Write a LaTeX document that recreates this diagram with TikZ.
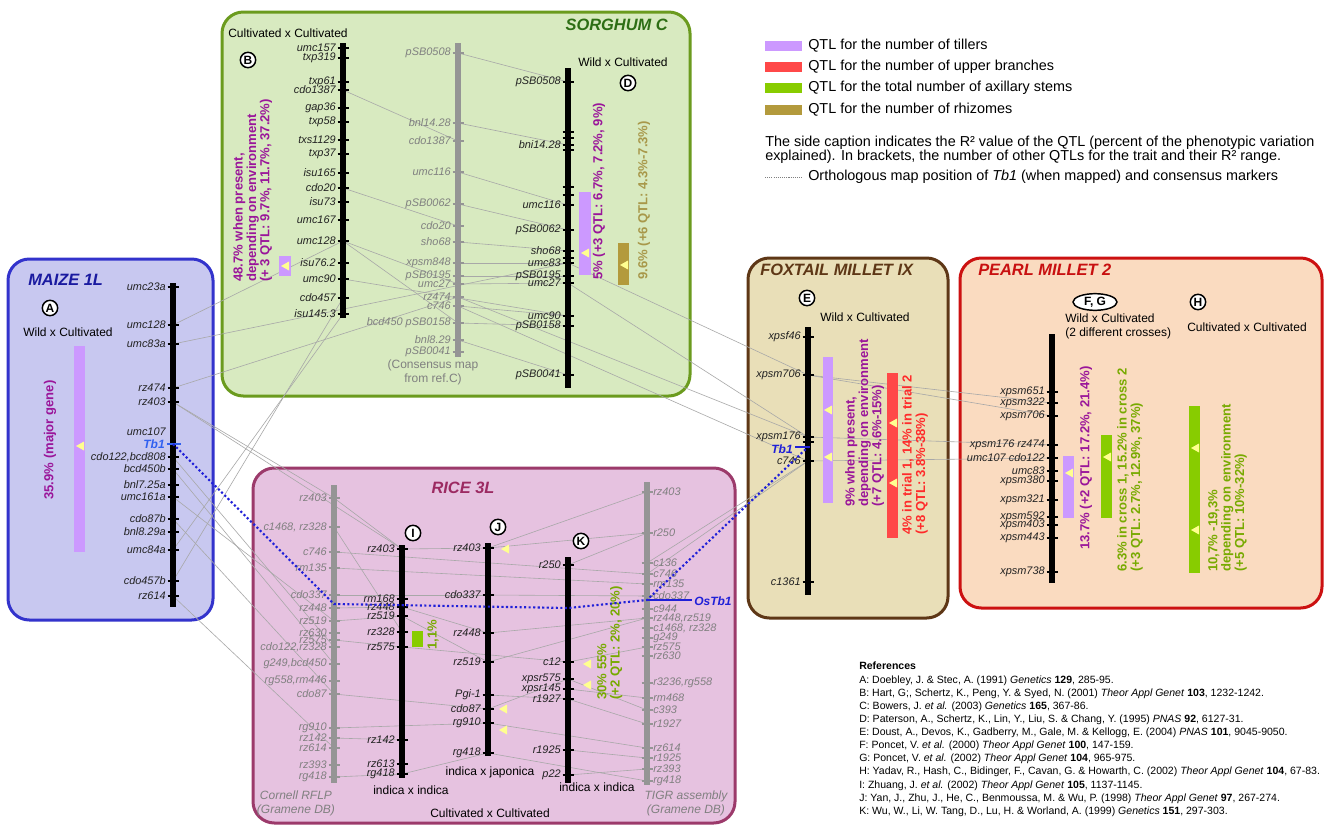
\documentclass[tikz,border=0pt]{standalone}
\usepackage{fontspec}
\setmainfont{Liberation Sans}
\usetikzlibrary{shapes.geometric}
\definecolor{mzfill}{HTML}{C8C8F0}\definecolor{mzline}{HTML}{3333CC}\definecolor{mztitle}{HTML}{1A1AA0}
\definecolor{sgfill}{HTML}{D8EAC0}\definecolor{sgline}{HTML}{6B9B1E}\definecolor{sgtitle}{HTML}{2D6E14}
\definecolor{rcfill}{HTML}{E6C2E0}\definecolor{rcline}{HTML}{9C3A6B}\definecolor{rctitle}{HTML}{9C2A62}
\definecolor{fxfill}{HTML}{E9DFB8}\definecolor{fxline}{HTML}{5E3716}\definecolor{fxtitle}{HTML}{5E3716}
\definecolor{pmfill}{HTML}{FADBC0}\definecolor{pmline}{HTML}{CC1111}\definecolor{pmtitle}{HTML}{C81010}
\definecolor{qtil}{HTML}{CC99FF}\definecolor{qbra}{HTML}{FF4848}\definecolor{qaxi}{HTML}{88CC00}\definecolor{qrhi}{HTML}{B39A3C}
\definecolor{ttil}{HTML}{9A159A}\definecolor{tbra}{HTML}{FF2A2A}\definecolor{taxi}{HTML}{77AA00}\definecolor{trhi}{HTML}{A8984A}
\definecolor{tbblue}{HTML}{2020D8}\definecolor{tblight}{HTML}{3060F0}
\definecolor{qyel}{HTML}{FFFF90}
\definecolor{mkgray}{HTML}{808080}\definecolor{chromgray}{HTML}{959595}
\definecolor{mktext}{HTML}{222222}\definecolor{conncol}{HTML}{A8A8A8}
\newcommand\mkfont{\fontsize{8.2}{9}\selectfont\itshape}
\newcommand\ttlfont{\fontsize{12.3}{14}\selectfont\bfseries\itshape}
\newcommand\circfont{\fontsize{9}{10}\selectfont\bfseries}
\newcommand\crossfont{\fontsize{9}{10.5}\selectfont}
\newcommand\qfont{\fontsize{9.8}{10}\selectfont\bfseries}
\newcommand\legfont{\fontsize{10.8}{12}\selectfont}
\newcommand\reffont{\fontsize{7.9}{9.85}\selectfont}
\pgfdeclarelayer{boxes}
\pgfdeclarelayer{conns}
\pgfsetlayers{boxes,conns,main}
\tikzset{
 panel/.style={line width=2.25pt, rounded corners=16pt},
 chrom/.style={line width=3.8pt, black},
 gchrom/.style={line width=3.8pt, chromgray},
 mtick/.style={line width=1.1pt, black},
 gtick/.style={line width=1.1pt, chromgray},
 mlab/.style={font=\mkfont, text=mktext, inner sep=0pt},
 glab/.style={font=\mkfont, text=mkgray, inner sep=0pt},
 tblab/.style={font=\fontsize{9}{10}\selectfont\bfseries\itshape, inner sep=0pt},
 ttl/.style={font=\ttlfont, inner sep=0pt},
 circ/.style={circle, draw=black, line width=1.1pt, fill=white, inner sep=0pt, minimum size=11.5pt, font=\circfont},
 crosslab/.style={font=\crossfont, inner sep=0pt, align=center},
 qlab/.style={rotate=90, font=\qfont, inner sep=0pt, align=left},
 connline/.style={line width=0.45pt, conncol},
 tbl/.style={line width=1.6pt, tbblue, dash pattern=on 1.6pt off 1.8pt},
 legtxt/.style={font=\legfont, anchor=west, inner sep=0pt},
}
\newcommand\mkl[4]{\coordinate (#1) at (#2,#3);\draw[mtick] (#2-5.5,#3) -- (#2+5.5,#3);\node[mlab,anchor=east] (#1-t) at (#2-7,#3) {#4};}
\newcommand\mkg[4]{\coordinate (#1) at (#2,#3);\draw[gtick] (#2-5.5,#3) -- (#2+5.5,#3);\node[glab,anchor=east] (#1-t) at (#2-7,#3) {#4};}
\newcommand\mkgr[4]{\coordinate (#1) at (#2,#3);\draw[gtick] (#2-5.5,#3) -- (#2+5.5,#3);\node[glab,anchor=west] (#1-t) at (#2+6,#3) {#4};}
\newcommand\qtr[2]{\fill[qyel] (#1-4,#2) -- (#1+4,#2-4.5) -- (#1+4,#2+4.5) -- cycle;}
\begin{document}
\begin{tikzpicture}[x=0.75pt,y=-0.75pt]
\useasboundingbox (0,0) rectangle (1329,828);
\begin{pgfonlayer}{boxes}
 \fill[white] (0,0) rectangle (1329,828);
 \draw[panel,draw=mzline,fill=mzfill] (8,259) rectangle (213,620);
 \draw[panel,draw=sgline,fill=sgfill] (222,12) rectangle (690,396);
 \draw[panel,draw=rcline,fill=rcfill] (253,468) rectangle (735,823);
 \draw[panel,draw=fxline,fill=fxfill] (748,258) rectangle (948,618);
 \draw[panel,draw=pmline,fill=pmfill] (960,258) rectangle (1322,608);
\end{pgfonlayer}
% titles
\node[ttl,text=mztitle,anchor=west] (tMaize) at (28,280) {MAIZE 1L};
\node[ttl,text=sgtitle,anchor=east] (tSorg) at (668,25) {SORGHUM C};
\node[ttl,text=rctitle] (tRice) at (463,488) {RICE 3L};
\node[ttl,text=fxtitle,anchor=west] (tFox) at (760,270) {FOXTAIL MILLET IX};
\node[ttl,text=pmtitle,anchor=west] (tPearl) at (978,270) {PEARL MILLET 2};
% ---------------- MAIZE
\node[circ] (cA) at (50,308) {A};
\node[crosslab] (xA) at (68,332) {Wild x Cultivated};
\fill[qtil] (74,346) rectangle (85,552); \qtr{80}{446}
\node[qlab,text=ttil] (qA) at (50,440) {35.9\% (major gene)};
\draw[chrom] (173,283) -- (173,607);
\mkl{mz-umc23a}{173}{287}{umc23a}
\mkl{mz-umc128}{173}{325}{umc128}
\mkl{mz-umc83a}{173}{344}{umc83a}
\mkl{mz-rz474}{173}{388}{rz474}
\mkl{mz-rz403}{173}{402}{rz403}
\node[mlab,anchor=east] (mz-umc107-t) at (166,432) {umc107};
\mkl{mz-cdo122}{173}{457}{cdo122,bcd808}
\mkl{mz-bcd450b}{173}{469}{bcd450b}
\mkl{mz-bnl725a}{173}{485}{bnl7.25a}
\mkl{mz-umc161a}{173}{497}{umc161a}
\mkl{mz-cdo87b}{173}{519}{cdo87b}
\mkl{mz-bnl829a}{173}{532}{bnl8.29a}
\mkl{mz-umc84a}{173}{550}{umc84a}
\mkl{mz-cdo457b}{173}{581}{cdo457b}
\mkl{mz-rz614}{173}{596}{rz614}
\coordinate (mz-Tb1) at (173,444);
\draw[line width=2.2pt,tblight] (167,444) -- (181,444);
\node[tblab,text=tblight,anchor=east] (mz-Tb1-t) at (165,444) {Tb1};
% ---------------- SORGHUM B
\node[crosslab,anchor=west] (xB) at (228,33) {Cultivated x Cultivated};
\node[circ] (cB) at (248,60) {B};
\fill[qtil] (279,256) rectangle (291,276); \qtr{285}{266}
\node[qlab,text=ttil,anchor=north west] (qB) at (233,282) {48.7\% when present,\\depending on environment\\(+ 3 QTL: 9.7\%, 11.7\%, 37.2\%)};
\draw[chrom] (343,43) -- (343,318);
\mkl{B-umc157}{343}{48}{umc157}
\mkl{B-txp319}{343}{58}{txp319}
\mkl{B-txp61}{343}{82}{txp61}
\mkl{B-cdo1387}{343}{90}{cdo1387}
\mkl{B-gap36}{343}{108}{gap36}
\mkl{B-txp58}{343}{122}{txp58}
\mkl{B-txs1129}{343}{140}{txs1129}
\mkl{B-txp37}{343}{154}{txp37}
\mkl{B-isu165}{343}{173}{isu165}
\mkl{B-cdo20}{343}{188}{cdo20}
\mkl{B-isu73}{343}{202}{isu73}
\mkl{B-umc167}{343}{220}{umc167}
\mkl{B-umc128}{343}{241}{umc128}
\mkl{B-isu762}{343}{263}{isu76.2}
\mkl{B-umc90}{343}{279}{umc90}
\mkl{B-cdo457}{343}{298}{cdo457}
\mkl{B-isu1453}{343}{314}{isu145.3}
% ---------------- SORGHUM consensus
\draw[gchrom] (458,43) -- (458,357);
\mkg{C-pSB0508}{458}{53}{pSB0508}
\mkg{C-bnl1428}{458}{123}{bnl14.28}
\mkg{C-cdo1387}{458}{141}{cdo1387}
\mkg{C-umc116}{458}{172}{umc116}
\mkg{C-pSB0062}{458}{204}{pSB0062}
\mkg{C-cdo20}{458}{226}{cdo20}
\mkg{C-sho68}{458}{242}{sho68}
\mkg{C-xpsm848}{458}{263}{xpsm848}
\mkg{C-pSB0195}{458}{276}{pSB0195}
\mkg{C-umc27}{458}{284}{umc27}
\mkg{C-rz474}{458}{297}{rz474}
\mkg{C-c746}{458}{306}{c746}
\mkg{C-pSB0158}{458}{323}{bcd450 pSB0158}
\mkg{C-bnl829}{458}{340}{bnl8.29}
\mkg{C-pSB0041}{458}{352}{pSB0041}
\node[crosslab,text=mkgray] (consnote) at (433,372) {(Consensus map\\from ref.C)};
% ---------------- SORGHUM D
\node[crosslab] (xD) at (623,62) {Wild x Cultivated};
\node[circ] (cD) at (628,83) {D};
\fill[qtil] (579,192) rectangle (591,275); \qtr{585}{253}
\fill[qrhi] (618,243) rectangle (629,285); \qtr{624}{265}
\node[qlab,text=ttil,anchor=west] (qD1) at (599,280) {5\% (+3 QTL: 6.7\%, 7.2\%, 9\%)};
\node[qlab,text=trhi,anchor=west] (qD2) at (644,280) {9.6\% (+6 QTL: 4.3\%-7.3\%)};
\draw[chrom] (568,68) -- (568,388);
\mkl{D-pSB0508}{568}{82}{pSB0508}
\foreach \yy in {132,138,150,187,195,258} \draw[mtick] (562.5,\yy) -- (573.5,\yy);
\mkl{D-bnl1428}{568}{145}{bni14.28}
\mkl{D-umc116}{568}{205}{umc116}
\mkl{D-pSB0062}{568}{230}{pSB0062}
\mkl{D-sho68}{568}{251}{sho68}
\mkl{D-umc83}{568}{263}{umc83}
\mkl{D-pSB0195}{568}{276}{pSB0195}
\mkl{D-umc27}{568}{283}{umc27}
\mkl{D-umc90}{568}{316}{umc90}
\mkl{D-pSB0158}{568}{326}{pSB0158}
\mkl{D-pSB0041}{568}{375}{pSB0041}
% ---------------- FOXTAIL
\node[circ] (cE) at (807,298) {E};
\node[crosslab] (xE) at (865,317) {Wild x Cultivated};
\fill[qtil] (823,357) rectangle (833,503); \qtr{828}{410}\qtr{828}{457}
\fill[qbra] (887,373) rectangle (898,538); \qtr{893}{423}\qtr{893}{483}
\node[qlab,text=ttil,anchor=north west] (qE1) at (845,507) {9\% when present,\\depending on environment\\(+7 QTL: 4.6\%-15\%)};
\node[qlab,text=tbra,anchor=north west] (qE2) at (902,535) {4\% in trial 1, 14\% in trial 2\\(+8 QTL: 3.8\%-38\%)};
\draw[chrom] (808,327) -- (808,595);
\mkl{F-xpsf46}{808}{337}{xpsf46}
\mkl{F-xpsm706}{808}{375}{xpsm706}
\mkl{F-xpsm176}{808}{437}{xpsm176}
\draw[mtick] (802.5,442) -- (813.5,442);
\mkl{F-c746}{808}{461}{c746}
\mkl{F-c1361}{808}{582}{c1361}
\coordinate (F-Tb1) at (808,447);
\draw[line width=2.2pt,tbblue] (795,447) -- (810,447);
\node[tblab,text=tbblue,anchor=east] (F-Tb1-t) at (793,449) {Tb1};
% ---------------- PEARL MILLET
\node[ellipse, draw=black, line width=1.1pt, fill=white, inner sep=0pt, minimum width=33pt, minimum height=12.5pt, font=\circfont] (cFG) at (1095,302) {F, G};
\node[circ] (cH) at (1198,302) {H};
\node[crosslab,anchor=north west,align=left] (xFG) at (1065,314) {Wild x Cultivated\\(2 different crosses)};
\node[crosslab] (xH) at (1247,327) {Cultivated x Cultivated};
\fill[qtil] (1063,456) rectangle (1074,518); \qtr{1069}{473}
\fill[qaxi] (1101,435) rectangle (1112,518); \qtr{1107}{457}
\fill[qaxi] (1189,406) rectangle (1200,573); \qtr{1195}{448}\qtr{1195}{530}
\node[qlab,text=ttil,anchor=west] (qP1) at (1086,550) {13.7\% (+2 QTL: 17.2\%, 21.4\%)};
\node[qlab,text=taxi,anchor=north west] (qP2) at (1117,572) {6.3\% in cross 1, 15.2\% in cross 2\\(+3 QTL: 2.7\%, 12.9\%, 37\%)};
\node[qlab,text=taxi,anchor=north west] (qP3) at (1208,572) {10,7\% -19,3\%\\depending on environment\\(+5 QTL: 10\%-32\%)};
\draw[chrom] (1052,334) -- (1052,583);
\mkl{P-xpsm651}{1052}{392}{xpsm651}
\mkl{P-xpsm322}{1052}{403}{xpsm322}
\mkl{P-xpsm706}{1052}{416}{xpsm706}
\mkl{P-xpsm176}{1052}{445}{xpsm176 rz474}
\mkl{P-umc107}{1052}{458}{umc107 cdo122}
\mkl{P-umc83}{1052}{471}{umc83}
\mkl{P-xpsm380}{1052}{481}{xpsm380}
\mkl{P-xpsm321}{1052}{500}{xpsm321}
\mkl{P-xpsm592}{1052}{517}{xpsm592}
\mkl{P-xpsm403}{1052}{525}{xpsm403}
\mkl{P-xpsm443}{1052}{538}{xpsm443}
\mkl{P-xpsm738}{1052}{572}{xpsm738}
% ---------------- RICE Cornell
\draw[gchrom] (334,485) -- (334,783);
\mkg{R-rz403}{334}{498}{rz403}
\mkg{R-c1468}{334}{527}{c1468, rz328}
\mkg{R-c746}{334}{552}{c746}
\mkg{R-rm135}{334}{568}{rm135}
\mkg{R-cdo337}{334}{595}{cdo337}
\mkg{R-rz448}{334}{608}{rz448}
\mkg{R-rz519}{334}{621}{rz519}
\mkg{R-rz630}{334}{633}{rz630}
\mkg{R-rz575}{334}{640}{rz575}
\mkg{R-cdo122}{334}{647}{cdo122,rz328}
\mkg{R-g249}{334}{664}{g249,bcd450}
\mkg{R-rg558}{334}{681}{rg558,rm446}
\mkg{R-cdo87}{334}{694}{cdo87}
\mkg{R-rg910}{334}{728}{rg910}
\mkg{R-rz142}{334}{738}{rz142}
\mkg{R-rz614}{334}{748}{rz614}
\mkg{R-rz393}{334}{765}{rz393}
\mkg{R-rg418}{334}{777}{rg418}
\node[crosslab,text=mkgray,font=\crossfont\itshape] (cornell) at (296,803) {Cornell RFLP\\(Gramene DB)};
% ---------------- RICE I
\node[circ] (cI) at (413,533) {I};
\draw[chrom] (402,545) -- (402,778);
\mkl{I-rz403}{402}{549}{rz403}
\mkl{I-rm168}{402}{599}{rm168}
\mkl{I-rz448}{402}{607}{rz448}
\mkl{I-rz519}{402}{616}{rz519}
\mkl{I-rz328}{402}{632}{rz328}
\mkl{I-rz575}{402}{647}{rz575}
\mkl{I-rz142}{402}{740}{rz142}
\mkl{I-rz613}{402}{764}{rz613}
\mkl{I-rg418}{402}{774}{rg418}
\fill[qaxi] (412,631) rectangle (423,647);
\node[qlab,text=taxi,anchor=west] (qI) at (433,650) {1,1\%};
\node[crosslab] (xI) at (411,790) {indica x indica};
% ---------------- RICE J
\node[circ] (cJ) at (498,527) {J};
\draw[chrom] (488,543) -- (488,756);
\mkl{J-rz403}{488}{548}{rz403}
\mkl{J-cdo337}{488}{595}{cdo337}
\mkl{J-rz448}{488}{633}{rz448}
\mkl{J-rz519}{488}{662}{rz519}
\mkl{J-Pgi1}{488}{695}{Pgi-1}
\mkl{J-cdo87}{488}{709}{cdo87}
\mkl{J-rg910}{488}{723}{rg910}
\mkl{J-rg418}{488}{753}{rg418}
\qtr{505}{549}\qtr{503}{709}\qtr{503}{730}
\node[crosslab] (xJ) at (490,772) {indica x japonica};
% ---------------- RICE K
\node[circ] (cK) at (581,541) {K};
\draw[chrom] (568,557) -- (568,783);
\mkl{K-r250}{568}{565}{r250}
\mkl{K-c12}{568}{662}{c12}
\mkl{K-xpsr575}{568}{679}{xpsr575}
\mkl{K-xpsr145}{568}{689}{xpsr145}
\mkl{K-r1927}{568}{699}{r1927}
\mkl{K-r1925}{568}{750}{r1925}
\mkl{K-p22}{568}{775}{p22}
\qtr{587}{664}\qtr{587}{685}
\node[qlab,text=taxi,anchor=north west] (qK) at (597,700) {30\% 55\%\\(+2 QTL: 2\%, 20\%)};
\node[crosslab] (xK) at (597,787) {indica x indica};
\node[crosslab] (xRice) at (490,813) {Cultivated x Cultivated};
% ---------------- RICE TIGR
\draw[gchrom] (647,482) -- (647,785);
\mkgr{T-rz403}{647}{492}{rz403}
\mkgr{T-r250}{647}{533}{r250}
\mkgr{T-c136}{647}{563}{c136}
\mkgr{T-c746}{647}{574}{c746}
\mkgr{T-rm135}{647}{584}{rm135}
\mkgr{T-cdo337}{647}{596}{cdo337}
\mkgr{T-c944}{647}{609}{c944}
\mkgr{T-rz448}{647}{618}{rz448,rz519}
\mkgr{T-c1468}{647}{628}{c1468, rz328}
\mkgr{T-g249}{647}{638}{g249}
\mkgr{T-rz575}{647}{647}{rz575}
\mkgr{T-rz630}{647}{656}{rz630}
\mkgr{T-r3236}{647}{683}{r3236,rg558}
\mkgr{T-rm468}{647}{698}{rm468}
\mkgr{T-c393}{647}{710}{c393}
\mkgr{T-r1927}{647}{724}{r1927}
\mkgr{T-rz614}{647}{748}{rz614}
\mkgr{T-r1925}{647}{758}{r1925}
\mkgr{T-rz393}{647}{769}{rz393}
\mkgr{T-rg418}{647}{781}{rg418}
\node[crosslab,text=mkgray,font=\crossfont\itshape] (tigr) at (686,803) {TIGR assembly\\(Gramene DB)};
\coordinate (T-OsTb1) at (647,600);
\coordinate (T-OsTb1e) at (692,600);
\draw[line width=2pt,tbblue] (T-OsTb1) -- (T-OsTb1e);
\node[tblab,text=tbblue,anchor=west] (OsTb1) at (694,601) {OsTb1};
% ---------------- connectors
\begin{pgfonlayer}{conns}
\foreach \a/\b in {mz-umc128/B-umc128, mz-umc83a/D-umc83, mz-rz474/C-rz474, mz-cdo457b/B-cdo457,
  mz-umc84a/B-isu1453, mz-rz403/I-rz403, mz-rz403/R-rz403, mz-cdo122/R-cdo122, mz-bcd450b/R-g249,
  mz-cdo87b/R-cdo87, mz-rz614/R-rz614, mz-umc161a/R-rz519,
  B-cdo1387/C-cdo1387, B-cdo20/C-cdo20, B-umc128/C-umc27, B-umc128/C-pSB0158, B-umc90/D-umc90,
  C-pSB0508/D-pSB0508, C-bnl1428/D-bnl1428, C-umc116/D-umc116, C-pSB0062/D-pSB0062, C-sho68/D-sho68,
  C-xpsm848/D-umc83, C-pSB0195/D-pSB0195, C-umc27/D-umc27, C-c746/D-umc90, C-pSB0158/D-pSB0158,
  C-bnl829/D-pSB0041, C-rz474/F-xpsm176, C-c746/F-c746, D-umc83/F-xpsm706, D-umc27/F-xpsm176,
  F-xpsm706/P-xpsm706, F-xpsm176/P-xpsm176, F-c746/P-umc107, F-xpsm706/P-xpsm322,
  R-rz403/I-rz403, I-rz403/J-rz403, J-rz403/T-rz403, R-rz448/I-rz448, I-rz448/J-rz448, J-rz448/T-rz448,
  R-rz519/I-rz519, I-rz519/J-rz519, J-rz519/T-rz448, R-rz575/I-rz575, I-rz575/K-c12, R-c1468/I-rz328,
  R-cdo337/J-cdo337, J-cdo337/T-cdo337, R-cdo87/J-cdo87, R-rg910/J-rg910, R-rz142/I-rz142,
  R-rg418/I-rg418, I-rg418/J-rg418, J-rg418/T-rg418, J-rz403/T-r250, K-r250/T-r250, K-r1927/T-r1927,
  K-r1925/T-r1925, K-c12/T-rz575, K-xpsr575/T-c393, K-xpsr145/T-rm468, J-cdo87/K-xpsr575,
  J-rg910/T-rz614, J-Pgi1/K-r1927, T-c746/F-c746, T-c136/F-c746, R-c746/T-c746, R-rm135/T-rm135,
  K-p22/T-rz393}
  \draw[connline] (\a) -- (\b);
\end{pgfonlayer}
% ---------------- Tb1 orthology
\coordinate (tbR) at (334,604);
\coordinate (tbK) at (568,608);
\draw[tbl] (mz-Tb1) -- (tbR) -- (tbK) -- (T-OsTb1) -- (F-Tb1);
% ---------------- legend
\fill[qtil] (765,41) rectangle (802,51);
\node[legtxt] (lg1) at (808,46) {QTL for the number of tillers};
\fill[qbra] (765,62) rectangle (802,72);
\node[legtxt] (lg2) at (808,67) {QTL for the number of upper branches};
\fill[qaxi] (765,83) rectangle (802,93);
\node[legtxt] (lg3) at (808,88) {QTL for the total number of axillary stems};
\fill[qrhi] (765,105) rectangle (802,115);
\node[legtxt] (lg4) at (808,110) {QTL for the number of rhizomes};
\node[legtxt] (lg5a) at (765,143) {The side caption indicates the R² value of the QTL (percent of the phenotypic variation};
\node[legtxt] (lg5b) at (765,157) {explained). In brackets, the number of other QTLs for the trait and their R² range.};
\coordinate (lgd1) at (765,177);
\coordinate (lgd2) at (802,177);
\draw[gray,line width=0.6pt,dash pattern=on 0.8pt off 0.8pt] (lgd1) -- (lgd2);
\node[legtxt] (lg6) at (808,177) {Orthologous map position of \textit{Tb1} (when mapped) and consensus markers};
% ---------------- references
\node[font=\reffont,anchor=north west,align=left,inner sep=0pt] (refs) at (859,662) {\textbf{References}\\
A: Doebley, J. \& Stec, A. (1991) \textit{Genetics} \textbf{129}, 285-95.\\
B: Hart, G;, Schertz, K., Peng, Y. \& Syed, N. (2001) \textit{Theor Appl Genet} \textbf{103}, 1232-1242.\\
C: Bowers, J. \textit{et al.} (2003) \textit{Genetics} \textbf{165}, 367-86.\\
D: Paterson, A., Schertz, K., Lin, Y., Liu, S. \& Chang, Y. (1995) \textit{PNAS} \textbf{92}, 6127-31.\\
E: Doust, A., Devos, K., Gadberry, M., Gale, M. \& Kellogg, E. (2004) \textit{PNAS} \textbf{101}, 9045-9050.\\
F: Poncet, V. \textit{et al.} (2000) \textit{Theor Appl Genet} \textbf{100}, 147-159.\\
G: Poncet, V. \textit{et al.} (2002) \textit{Theor Appl Genet} \textbf{104}, 965-975.\\
H: Yadav, R., Hash, C., Bidinger, F., Cavan, G. \& Howarth, C. (2002) \textit{Theor Appl Genet} \textbf{104}, 67-83.\\
I: Zhuang, J. \textit{et al.} (2002) \textit{Theor Appl Genet} \textbf{105}, 1137-1145.\\
J: Yan, J., Zhu, J., He, C., Benmoussa, M. \& Wu, P. (1998) \textit{Theor Appl Genet} \textbf{97}, 267-274.\\
K: Wu, W., Li, W. Tang, D., Lu, H. \& Worland, A. (1999) \textit{Genetics} \textbf{151}, 297-303.};
\end{tikzpicture}
\end{document}
